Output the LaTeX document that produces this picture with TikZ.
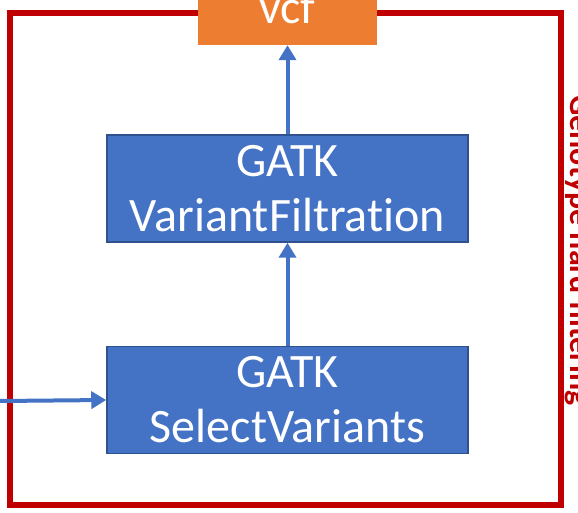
\documentclass[tikz,border=0pt]{standalone}
\usepackage{fontspec}
\setmainfont{Carlito}[Ligatures=NoCommon]
\usetikzlibrary{positioning,arrows.meta}
\definecolor{gatkblue}{HTML}{4472C4}
\definecolor{gatkedge}{HTML}{2F528F}
\definecolor{vcforange}{HTML}{ED7D31}
\definecolor{framered}{HTML}{C00000}

\begin{document}
\begin{tikzpicture}[x=1pt,y=1pt,
    box/.style = {draw=gatkedge, line width=1.5pt, fill=gatkblue, text=white,
        minimum width=361pt, minimum height=107pt, align=center,
        font=\fontsize{48}{55}\selectfont, inner sep=0pt},
    flow/.style = {draw=gatkblue, line width=4pt, -{Triangle[length=15pt,width=17pt]}}]
    \clip (0,0) rectangle (578,512);
    \draw[framered, line width=6pt] (10,7) rectangle (561,499);
    \node[box] (sv) at (287.5,112) {GATK\\SelectVariants};
    \node[box, above=103pt of sv] (vf) {GATK\\VariantFiltration};
    \node[fill=vcforange, text=white, minimum width=179pt, minimum height=76pt,
        inner sep=0pt, font=\fontsize{48}{55}\selectfont] (vcf) at (287.5,505) {vcf};
    \node[text=framered, font=\bfseries\fontsize{32}{38}\selectfont, rotate=-90,
        anchor=base west, inner sep=0pt] (lbl) at (570,417) {Genotype hard filtering};
    \coordinate (in) at (0,111);
    \draw[flow] (in) -- (sv.west);
    \draw[flow] (sv) -- (vf);
    \draw[flow] (vf) -- (vcf);
\end{tikzpicture}
\end{document}
